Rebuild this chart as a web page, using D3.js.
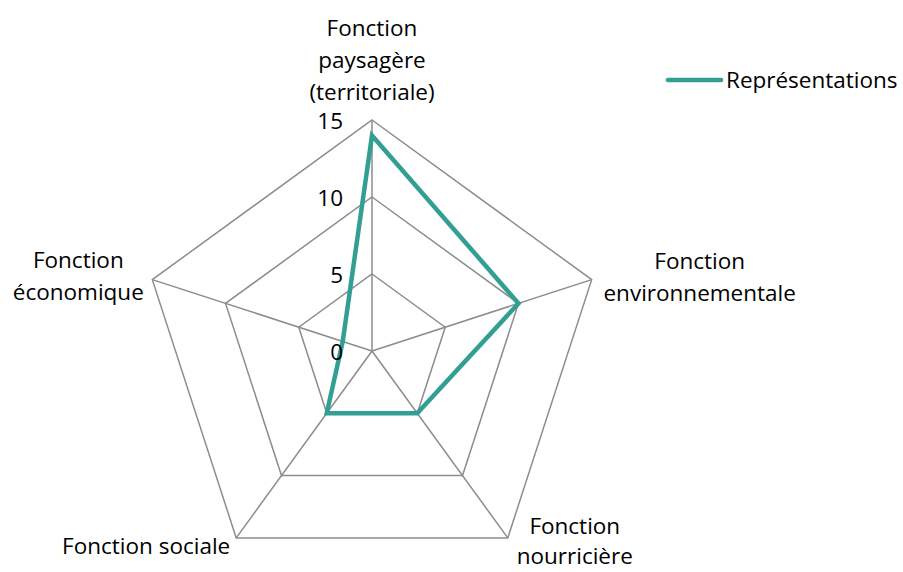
<!DOCTYPE html>
<html>
<head>
<meta charset="utf-8">
<script src="https://cdn.jsdelivr.net/npm/d3@7"></script>
<style>
  html, body { margin: 0; padding: 0; background: #fff; }
  svg { display: block; }
  text { font-family: "Open Sans", Lato, sans-serif; fill: #000; }
</style>
</head>
<body>
<div id="chart"></div>
<script>
// Axes of the radar, clockwise from the top
const axes = [
  ["Fonction", "paysagère", "(territoriale)"],
  ["Fonction", "environnementale"],
  ["Fonction", "nourricière"],
  ["Fonction sociale"],
  ["Fonction", "économique"]
];
const seriesName = "Représentations";
const values = [14, 10, 5, 5, 2];
const ticks = [0, 5, 10, 15];

const W = 903, H = 572;
const cx = 372, cy = 351, R = 231;
const teal = "#339E93";
const grid = "#8c8c8c";
const fontSize = 22.5;

const svg = d3.select("#chart").append("svg").attr("width", W).attr("height", H);

const r = d3.scaleLinear().domain([0, 15]).range([0, R]);
const angle = d3.scaleLinear().domain([0, axes.length]).range([-Math.PI / 2, 1.5 * Math.PI]);
const pt = (i, v) => [cx + r(v) * Math.cos(angle(i)), cy + r(v) * Math.sin(angle(i))];

const g = svg.append("g");

// Concentric pentagons
ticks.filter(t => t > 0).forEach(t => {
  g.append("path")
    .attr("d", d3.line()(axes.map((_, i) => pt(i, t))) + "Z")
    .attr("fill", "none").attr("stroke", grid).attr("stroke-width", 1.5);
});

// Spokes
axes.forEach((_, i) => {
  const [x, y] = pt(i, 15);
  g.append("line").attr("x1", cx).attr("y1", cy).attr("x2", x).attr("y2", y)
    .attr("stroke", grid).attr("stroke-width", 1.5);
});

// Series polygon
g.append("path")
  .attr("d", d3.line()(values.map((v, i) => pt(i, v))) + "Z")
  .attr("fill", "none").attr("stroke", teal).attr("stroke-width", 4.5)
  .attr("stroke-linejoin", "miter");

// Radial tick labels along the top spoke
ticks.forEach(t => {
  g.append("text")
    .attr("x", cx - 29).attr("y", cy - r(t) + 9)
    .attr("text-anchor", "end")
    .attr("font-size", fontSize).text(t);
});

// Category labels: baseline offsets from each outer vertex
const labelOffsets = [
  { dx: 0, dy: -84, anchor: "middle", lh: 32 },
  { dx: 108, dy: -10.5, anchor: "middle", lh: 32 },
  { dx: 67, dy: -4, anchor: "middle", lh: 30 },
  { dx: -6, dy: 16, anchor: "end", lh: 32 },
  { dx: -74, dy: -11.5, anchor: "middle", lh: 32 }
];
axes.forEach((lines, i) => {
  const [x, y] = pt(i, 15);
  const o = labelOffsets[i];
  const t = g.append("text").attr("text-anchor", o.anchor).attr("font-size", fontSize);
  lines.forEach((s, k) => {
    t.append("tspan").attr("x", x + o.dx).attr("y", y + o.dy + k * o.lh).text(s);
  });
});

// Legend
const lg = svg.append("g");
lg.append("line").attr("x1", 668).attr("x2", 721).attr("y1", 80).attr("y2", 80)
  .attr("stroke", teal).attr("stroke-width", 4.5).attr("stroke-linecap", "round");
lg.append("text").attr("x", 726).attr("y", 88).attr("font-size", fontSize).text(seriesName);
</script>
</body>
</html>
